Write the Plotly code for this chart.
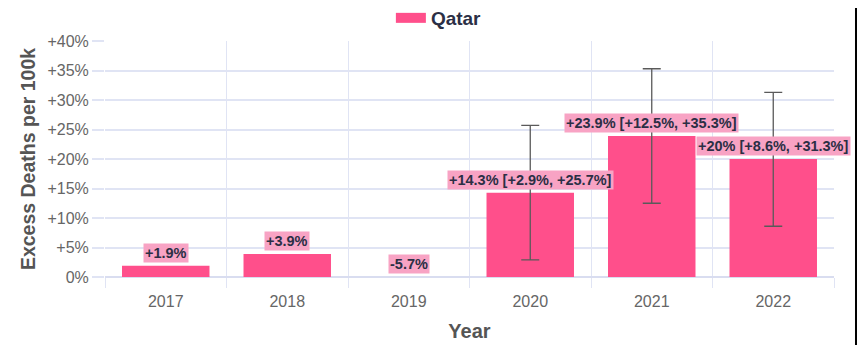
import plotly.graph_objects as go

# data
years = [2017, 2018, 2019, 2020, 2021, 2022]
excess = [1.9, 3.9, -5.7, 14.3, 23.9, 20.0]
ci_low = [None, None, None, 2.9, 12.5, 8.6]
ci_high = [None, None, None, 25.7, 35.3, 31.3]
y_ticks = [0, 5, 10, 15, 20, 25, 30, 35, 40]

bar_color = "#ff4f8b"
label_bg = "#f8a3c4"
grid_color = "#e0e4f4"
text_dark = "#2b2f45"
font_family = "Liberation Sans, Arial, sans-serif"


def fmt(v):
    s = f"{v:.1f}".rstrip("0").rstrip(".")
    return ("+" if v > 0 else "") + s + "%"


fig = go.Figure()

fig.add_trace(go.Bar(
    x=years, y=excess, name="Qatar", showlegend=False, legendgroup="q",
    marker=dict(color=bar_color, line=dict(width=0)),
    width=0.72,
))

# wide legend swatch like the original (thick line entry)
fig.add_trace(go.Scatter(
    x=[None], y=[None], mode="lines", name="<b>Qatar</b>", legendgroup="q",
    line=dict(color=bar_color, width=18),
))

# error bars only where a confidence interval exists
ex, ey, eplus, eminus = [], [], [], []
for yr, v, lo, hi in zip(years, excess, ci_low, ci_high):
    if lo is None:
        continue
    ex.append(yr)
    ey.append(v)
    eplus.append(hi - v)
    eminus.append(v - lo)

fig.add_trace(go.Scatter(
    x=ex, y=ey, mode="markers", showlegend=False, hoverinfo="skip",
    marker=dict(opacity=0, size=1),
    error_y=dict(type="data", array=eplus, arrayminus=eminus,
                 color="#5a5a5a", thickness=1.3, width=9),
))

# value labels
for yr, v, lo, hi in zip(years, excess, ci_low, ci_high):
    txt = fmt(v)
    if lo is not None:
        txt += f" [{fmt(lo)}, {fmt(hi)}]"
    fig.add_annotation(
        x=yr, y=max(v, 0), text=f"<b>{txt}</b>", showarrow=False,
        yanchor="bottom", yshift=3,
        font=dict(family=font_family, size=14.5, color=text_dark),
        bgcolor=label_bg, borderpad=1,
    )

# dark strip on the right edge of the reference screenshot
fig.add_shape(type="rect", xref="paper", yref="paper",
              x0=1.0288, x1=1.2, y0=-0.6, y1=1.6,
              fillcolor="black", line=dict(width=0), layer="above")

fig.update_layout(
    width=865, height=345,
    margin=dict(l=97, r=39, t=33, b=76, autoexpand=False),
    paper_bgcolor="white", plot_bgcolor="white",
    font=dict(family=font_family, color="#666666"),
    showlegend=True,
    legend=dict(orientation="h", x=0.458, xanchor="center",
                yref="container", y=1 - 10 / 345, yanchor="middle",
                font=dict(size=19, color=text_dark, family=font_family),
                bgcolor="rgba(0,0,0,0)"),
)

fig.update_xaxes(
    range=[years[0] - 0.5, years[-1] + 0.5],
    tickmode="array", tickvals=years, ticktext=[str(y) for y in years],
    showgrid=False, zeroline=False, showline=False,
    ticks="outside", ticklen=10, tickcolor="rgba(0,0,0,0)",
    tickfont=dict(size=16, color="#666666"),
    minor=dict(tick0=years[0] - 0.5, dtick=1, showgrid=True, gridcolor=grid_color,
               gridwidth=1.3, ticks="outside", ticklen=10, tickcolor=grid_color),
    title=dict(text="<b>Year</b>", font=dict(size=20, color="#555555"), standoff=14),
)
fig.update_yaxes(
    range=[0, 40], tickvals=y_ticks,
    ticktext=[("+" if t > 0 else "") + f"{t}%" for t in y_ticks],
    showgrid=True, gridcolor=grid_color, gridwidth=1.6,
    zeroline=True, zerolinecolor="#d9ddf0", zerolinewidth=2,
    ticks="outside", ticklen=12, tickcolor=grid_color, tickwidth=1.6,
    tickfont=dict(size=16, color="#666666"),
    title=dict(text="<b>Excess Deaths per 100k</b>", font=dict(size=19.5, color="#555555"),
               standoff=6),
)

fig.write_html("out.html")
